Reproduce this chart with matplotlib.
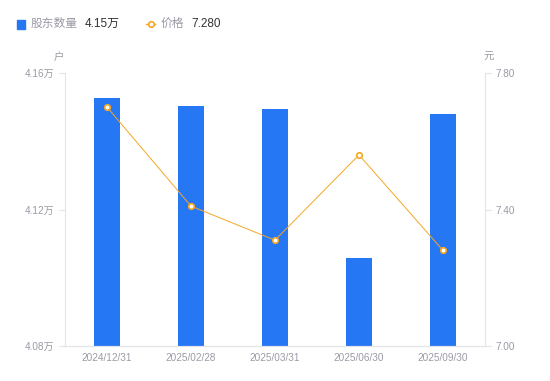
import matplotlib.pyplot as plt
from matplotlib.lines import Line2D
from matplotlib.patches import Rectangle

plt.rcParams['font.family'] = ['Liberation Sans', 'Noto Sans CJK SC', 'DejaVu Sans']

# 数据
dates = ["2024/12/31", "2025/02/28", "2025/03/31", "2025/06/30", "2025/09/30"]
holders = [4.1527, 4.1503, 4.1495, 4.1058, 4.1480]   # 万户
price = [7.70, 7.41, 7.31, 7.56, 7.28]               # 元
left_ticks = [4.08, 4.12, 4.16]
right_ticks = [7.00, 7.40, 7.80]

blue = "#2677F4"
orange = "#F5A623"
gray = "#9A9AA6"
axis_gray = "#E3E3E8"

fig = plt.figure(figsize=(5.5, 3.81), dpi=100)
ax = fig.add_axes([65 / 550, 1 - 346 / 381, 420 / 550, 273 / 381])
x = list(range(len(dates)))

ax.bar(x, holders, width=0.3, color=blue, zorder=2)
ax.set_ylim(left_ticks[0], left_ticks[-1])
ax.set_xlim(-0.5, len(dates) - 0.5)
ax.set_yticks(left_ticks)
ax.set_yticklabels([f"{v:.2f}万" for v in left_ticks])
ax.set_xticks(x)
ax.set_xticklabels(dates)

ax2 = ax.twinx()
ax2.plot(x, price, color=orange, linewidth=0.7, marker="o", markersize=4,
         markerfacecolor="white", markeredgecolor=orange, markeredgewidth=1.2, zorder=3)
ax2.set_ylim(right_ticks[0], right_ticks[-1])
ax2.set_yticks(right_ticks)
ax2.set_yticklabels([f"{v:.2f}" for v in right_ticks])

for a in (ax, ax2):
    a.spines["top"].set_visible(False)
    for s in ("left", "right", "bottom"):
        a.spines[s].set_color(axis_gray)
        a.spines[s].set_linewidth(0.8)
    a.tick_params(axis="both", colors=axis_gray, labelcolor=gray, labelsize=7.2,
                  length=4, width=0.8)
ax.tick_params(axis="x", length=0, pad=5)
ax2.spines["left"].set_visible(False)
ax.spines["right"].set_visible(False)

# 单位
fig.text(59 / 550, 1 - 57 / 381, "户", color=gray, fontsize=7.5, ha="center", va="center")
fig.text(489 / 550, 1 - 57 / 381, "元", color=gray, fontsize=7.5, ha="center", va="center")

# 图例
fig.patches.append(Rectangle((17 / 550, 1 - 29 / 381), 8 / 550, 9 / 381,
                             transform=fig.transFigure, color=blue))
fig.text(31 / 550, 1 - 24 / 381, "股东数量", color=gray, fontsize=8.5, va="center")
fig.text(85 / 550, 1 - 24 / 381, f"{holders[-1]:.2f}万", color="#333333", fontsize=8.5, va="center")
fig.lines.append(Line2D([146 / 550, 155 / 550], [1 - 24 / 381] * 2, transform=fig.transFigure,
                        color=orange, linewidth=1))
fig.lines.append(Line2D([150.5 / 550], [1 - 24 / 381], transform=fig.transFigure,
                        color=orange, marker="o", markersize=4, markerfacecolor="white",
                        markeredgewidth=1.2, linestyle="none"))
fig.text(161 / 550, 1 - 24 / 381, "价格", color=gray, fontsize=8.5, va="center")
fig.text(191 / 550, 1 - 24 / 381, f"{price[-1]:.3f}", color="#333333", fontsize=8.5, va="center")

fig.savefig("out.png", dpi=100)
